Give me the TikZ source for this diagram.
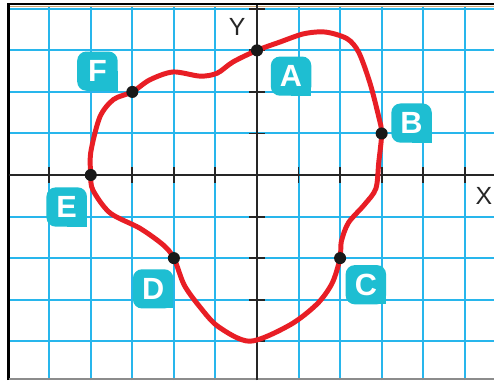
\documentclass[tikz,border=0pt]{standalone}
\usepackage{fontspec}
\setmainfont{Liberation Sans}
\pgfdeclarelayer{gridlayer}
\pgfdeclarelayer{lblbg}
\pgfsetlayers{gridlayer,lblbg,main}
\definecolor{gridblue}{RGB}{40,182,236}
\definecolor{lblcol}{RGB}{30,190,210}
\definecolor{curvered}{RGB}{232,30,37}
\definecolor{tanline}{RGB}{205,165,115}
\tikzset{
  gridline/.style={gridblue, line width=1.4pt},
  axisline/.style={black!85, line width=1.7pt},
  tickline/.style={black!85, line width=1.3pt},
  curveline/.style={curvered, line width=3.4pt, line join=round},
  dotnode/.style={circle, fill=black!90, inner sep=0pt, minimum size=0.29cm},
  lbl/.style={text=white, font=\fontsize{21}{21}\selectfont\bfseries, minimum width=0.96cm, minimum height=0.93cm, inner sep=0pt},
  axislbl/.style={font=\fontsize{17}{17}\selectfont, text=black!85, inner sep=0pt}
}
\begin{document}
\begin{tikzpicture}[x=1cm,y=1cm]
\useasboundingbox (-6.185,-4.934) rectangle (5.704,4.212);
\begin{pgfonlayer}{gridlayer}
  \fill[white] (-6.185,-4.934) rectangle (5.704,4.212);
  \foreach \x in {-5,...,5} \draw[gridline] (\x,-4.934) -- (\x,4.06);
  \foreach \y in {-4,...,4} \draw[gridline] (-5.98,\y) -- (5.704,\y);
  \draw[tanline, line width=0.8pt] (-5.98,4.06) -- (5.704,4.06);
  \draw[black, line width=1.6pt] (-5.98,-4.934) -- (-5.98,4.115) -- (5.704,4.115);
  \draw[black!45, line width=1pt] (-5.98,-4.91) -- (5.704,-4.91);
\end{pgfonlayer}
% axes
\draw[axisline] (-5.98,0) -- (5.704,0);
\draw[axisline] (0,-4.934) -- (0,4.1);
\foreach \x in {-5,...,5} \draw[tickline] (\x,-0.19) -- (\x,0.19);
\foreach \y in {-4,...,4} \draw[tickline] (-0.19,\y) -- (0.19,\y);
\node[axislbl] (ylab) at (-0.48,3.56) {Y};
\node[axislbl] (xlab) at (5.46,-0.5) {X};
% curve
\draw[curveline] plot[smooth cycle, tension=0.5] coordinates {
 (0,3) (0.55,3.2) (1.13,3.4) (1.65,3.44) (2.17,3.28) (2.45,2.95) (2.72,2.21)
 (2.93,1.4) (3,1) (2.93,0.3) (2.86,-0.33) (2.58,-0.72) (2.2,-1.15) (2.03,-1.6)
 (2,-2) (1.81,-2.6) (1.45,-3.1) (0.79,-3.61) (-0.17,-4.0) (-0.93,-3.65)
 (-1.37,-3.18) (-1.75,-2.65) (-2,-2) (-2.26,-1.68) (-2.82,-1.28) (-3.54,-0.91)
 (-3.95,-0.36) (-4,0) (-4.0,0.55) (-3.78,1.40) (-3.45,1.82) (-3,2) (-2.58,2.29)
 (-2.02,2.48) (-1.37,2.38) (-0.96,2.45) (-0.58,2.72)};
% points
\node[dotnode] (A) at (0,3) {};
\node[dotnode] (B) at (3,1) {};
\node[dotnode] (C) at (2,-2) {};
\node[dotnode] (D) at (-2,-2) {};
\node[dotnode] (E) at (-4,0) {};
\node[dotnode] (F) at (-3,2) {};
% labels
\node[lbl] (lA) at (0.82,2.38) {A};
\node[lbl] (lB) at (3.72,1.25) {B};
\node[lbl] (lC) at (2.62,-2.64) {C};
\node[lbl] (lD) at (-2.5,-2.74) {D};
\node[lbl] (lE) at (-4.58,-0.77) {E};
\node[lbl] (lF) at (-3.84,2.5) {F};
\begin{pgfonlayer}{lblbg}
  \foreach \n in {lA,lB,lC,lD,lE,lF} {
    \fill[lblcol, rounded corners=0.22cm] (\n.south west) rectangle (\n.north east);
    \fill[lblcol] (\n.center) rectangle (\n.south east);
  }
\end{pgfonlayer}
\end{tikzpicture}
\end{document}
